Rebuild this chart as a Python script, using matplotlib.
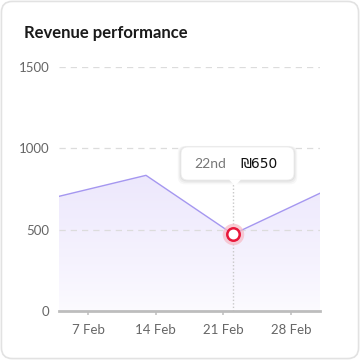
import matplotlib.pyplot as plt
import numpy as np
from matplotlib.patches import FancyBboxPatch, Polygon

plt.rcParams['font.family'] = ['Lato', 'DejaVu Sans']

days = [4, 13, 22, 31]
revenue = [705, 834, 472, 724]
tick_days = [7, 14, 21, 28]
tick_labels = ['7 Feb', '14 Feb', '21 Feb', '28 Feb']
y_ticks = [0, 500, 1000, 1500]
hover_day = 22
hover_value = 472
hover_label = '22nd'
hover_amount = '₪650'

fig = plt.figure(figsize=(3.6, 3.6), dpi=100)
fig.patch.set_facecolor('white')

# card border
card = FancyBboxPatch((0.004, 0.004), 0.992, 0.992, boxstyle='round,pad=0,rounding_size=0.03',
                      transform=fig.transFigure, facecolor='white', edgecolor='#e2e2e2', lw=1.2, zorder=-5)
fig.patches.append(card)

ax = fig.add_axes([59/360, 1-311/360, 261/360, (311-67)/360])
ax.set_zorder(2)
ax.set_facecolor('none')
ax.set_xlim(days[0], days[-1])
ax.set_ylim(0, 1500)

# gradient fill under line
verts = [(days[0], 0)] + list(zip(days, revenue)) + [(days[-1], 0)]
poly = Polygon(verts, closed=True, facecolor='none', edgecolor='none')
ax.add_patch(poly)
grad = np.linspace(0, 1, 256).reshape(-1, 1)
top = np.array([0.925, 0.905, 0.99])
bot = np.array([0.99, 0.985, 1.0])
img = bot + (top - bot) * grad[..., None] ** 0.8
img = img.reshape(256, 1, 3)
im = ax.imshow(img, extent=[days[0], days[-1], 0, 900], origin='lower', aspect='auto', zorder=1)
im.set_clip_path(poly)

ax.plot(days, revenue, color='#a597f0', lw=1.0, zorder=3)

for y in y_ticks[1:]:
    ax.axhline(y, color='#dcdcdc', lw=0.9, ls=(0, (5, 4)), zorder=2)

ax.axvline(hover_day, ymax=(311-180)/(311-67), color='#c8c8c8', lw=1.0, ls=(0, (1, 1.5)), zorder=2)

for s in ['top', 'right', 'left']:
    ax.spines[s].set_visible(False)
ax.spines['bottom'].set_color('#bdbdbd')
ax.spines['bottom'].set_linewidth(2)
ax.spines['bottom'].set_zorder(4)

ax.set_yticks(y_ticks)
ax.set_yticklabels([str(v) for v in y_ticks])
ax.set_xticks(tick_days)
ax.set_xticklabels(tick_labels)
ax.tick_params(axis='y', length=0, pad=7, labelsize=9.5, labelcolor='#666666')
ax.tick_params(axis='x', length=3, width=1.2, color='#c4c4c4', pad=6, labelsize=9.5, labelcolor='#666666')

# hovered point
ax.scatter([hover_day], [hover_value], s=240, color='#f7b8c4', alpha=0.7, zorder=5, linewidths=0)
ax.scatter([hover_day], [hover_value], s=80, facecolor='white', edgecolor='#e8173a', linewidths=1.8, zorder=6)

# tooltip
tx0, ty0, tw, th = 181/360, 1-180/360, 113/360, 33/360
for i, a in enumerate([0.05, 0.04, 0.03]):
    sh = FancyBboxPatch((tx0 - (i+1)*0.003, ty0 - (i+1)*0.004), tw + (i+1)*0.006, th + (i+1)*0.005,
                        boxstyle='round,pad=0,rounding_size=0.02', transform=fig.transFigure,
                        facecolor='black', edgecolor='none', alpha=a, zorder=10)
    fig.patches.append(sh)
box = FancyBboxPatch((tx0, ty0), tw, th, boxstyle='round,pad=0,rounding_size=0.018',
                     transform=fig.transFigure, facecolor='white', edgecolor='#ececec', lw=0.6, zorder=11)
fig.patches.append(box)
px = 235/360
tri = Polygon([(px - 6/360, ty0 + 0.5/360), (px + 6/360, ty0 + 0.5/360), (px, ty0 - 6/360)], closed=True,
              transform=fig.transFigure, facecolor='white', edgecolor='none', zorder=12)
fig.patches.append(tri)
fig.text(194/360, ty0 + th/2, hover_label, fontsize=10, color='#777777', va='center', ha='left', zorder=13)
fig.text(240/360, ty0 + th/2, hover_amount, fontsize=10, color='#111111', va='center', ha='left',
         family=['DejaVu Sans'], zorder=13)

fig.text(24/360, 1-33/360, 'Revenue performance', fontsize=12, fontweight='bold', color='#1a1a1a',
         va='center', ha='left')

fig.savefig('out.png', dpi=100, facecolor='white')
